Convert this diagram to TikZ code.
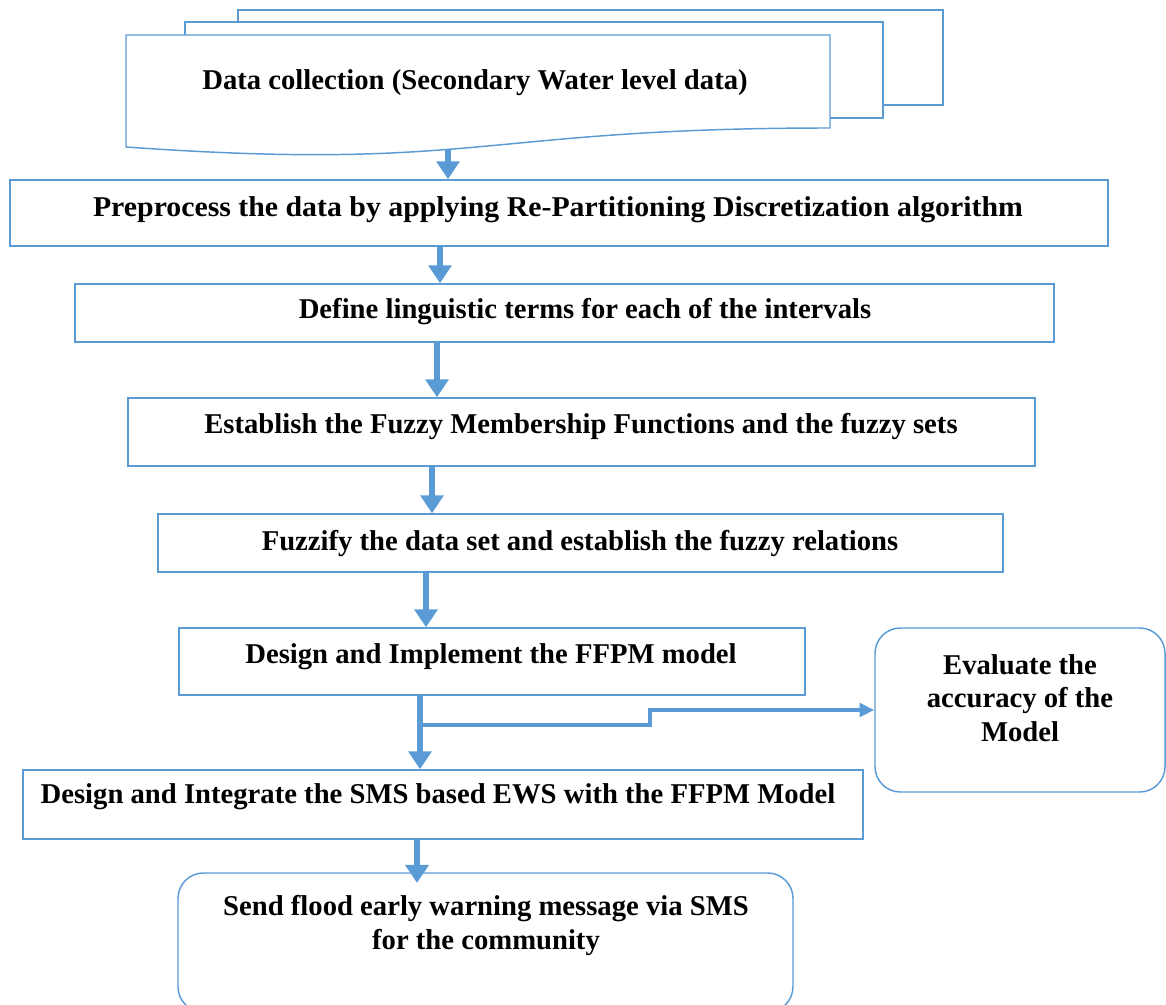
\documentclass[tikz,border=0pt]{standalone}
\usepackage{fontspec}
\setmainfont{Liberation Serif}
\usetikzlibrary{arrows.meta,fit}

\definecolor{flowblue}{RGB}{91,155,213}

\tikzset{
  box/.style={draw=flowblue, line width=1.1pt, fill=white, rectangle, inner sep=0pt},
  roundbox/.style={box, rounded corners=19pt},
  steptext/.style={font=\fontsize{21.5pt}{25pt}\selectfont\bfseries, inner sep=0pt,
                   align=center, anchor=base, text=black},
  flow/.style={draw=flowblue, line width=4.5pt, -{Triangle[length=13.5pt,width=17pt]}},
  branch/.style={draw=flowblue, line width=3pt, -{Triangle[length=11pt,width=10pt]}},
}

\begin{document}
\begin{tikzpicture}[x=0.75pt, y=-0.75pt]
  \useasboundingbox (0,0) rectangle (1166,1005);
  \clip (0,0) rectangle (1166,1005);

  % stacked documents for the data source
  \node[box, fit={(238,10) (943,105)}] (docC) {};
  \node[box, fit={(185,22) (883,118)}] (docB) {};
  \draw[box] (126,35) -- (830,35) -- (830,128)
        .. controls (478,128) and (478,172) .. (126,147) -- cycle;
  \coordinate (docfoot) at (448,149);
  \node[steptext] (t1) at (475,90) {Data collection (Secondary Water level data)};

  % processing steps
  \node[box, fit={(10,180) (1108,246)}] (prep) {};
  \node[steptext] (t2) at (558,217)
    {\scalebox{1.04}[1]{Preprocess the data by applying Re-Partitioning Discretization algorithm}};

  \node[box, fit={(75,284) (1054,342)}] (terms) {};
  \node[steptext] (t3) at (585,319) {Define linguistic terms for each of the intervals};

  \node[box, fit={(128,398) (1035,466)}] (member) {};
  \node[steptext] (t4) at (581,433)
    {Establish the Fuzzy Membership Functions and the fuzzy sets};

  \node[box, fit={(158,514) (1003,572)}] (fuzzify) {};
  \node[steptext] (t5) at (580,550) {Fuzzify the data set and establish the fuzzy relations};

  \node[box, fit={(179,628) (805,695)}] (ffpm) {};
  \node[steptext] (t6) at (491,663) {Design and Implement the FFPM model};

  % side box; the base anchor of a multi-line node sits on its last line
  \node[roundbox, fit={(875,628) (1165,792)}] (evalbox) {};
  \node[steptext] (t7) at (1020,741) {Evaluate the\\accuracy of the\\Model};

  \node[box, fit={(23,770) (863,839)}] (sms) {};
  \node[steptext] (t8) at (438,803)
    {Design and Integrate the SMS based EWS with the FFPM Model};

  \node[roundbox, fit={(178,873) (793,1012)}] (send) {};
  \node[steptext] (t9) at (486,949)
    {Send flood early warning message via SMS\\for the community};

  % connectors
  \draw[flow] (docfoot) -- (prep.north -| docfoot);
  \draw[flow] (prep.south -| 440,0) -- (terms.north -| 440,0);
  \draw[flow] (terms.south -| 437,0) -- (member.north -| 437,0);
  \draw[flow] (member.south -| 432,0) -- (fuzzify.north -| 432,0);
  \draw[flow] (fuzzify.south -| 426,0) -- (ffpm.north -| 426,0);
  \draw[flow] (ffpm.south -| 420,0) -- (sms.north -| 420,0);

  \coordinate (split) at (420,725);
  \coordinate (jog) at (650,725);
  \draw[branch] (split) -- (jog) |- (evalbox.west);

  \coordinate (sendin) at ([yshift=-8pt]send.north);
  \draw[flow] (sms.south -| 417,0) -- (sendin -| 417,0);
\end{tikzpicture}
\end{document}
